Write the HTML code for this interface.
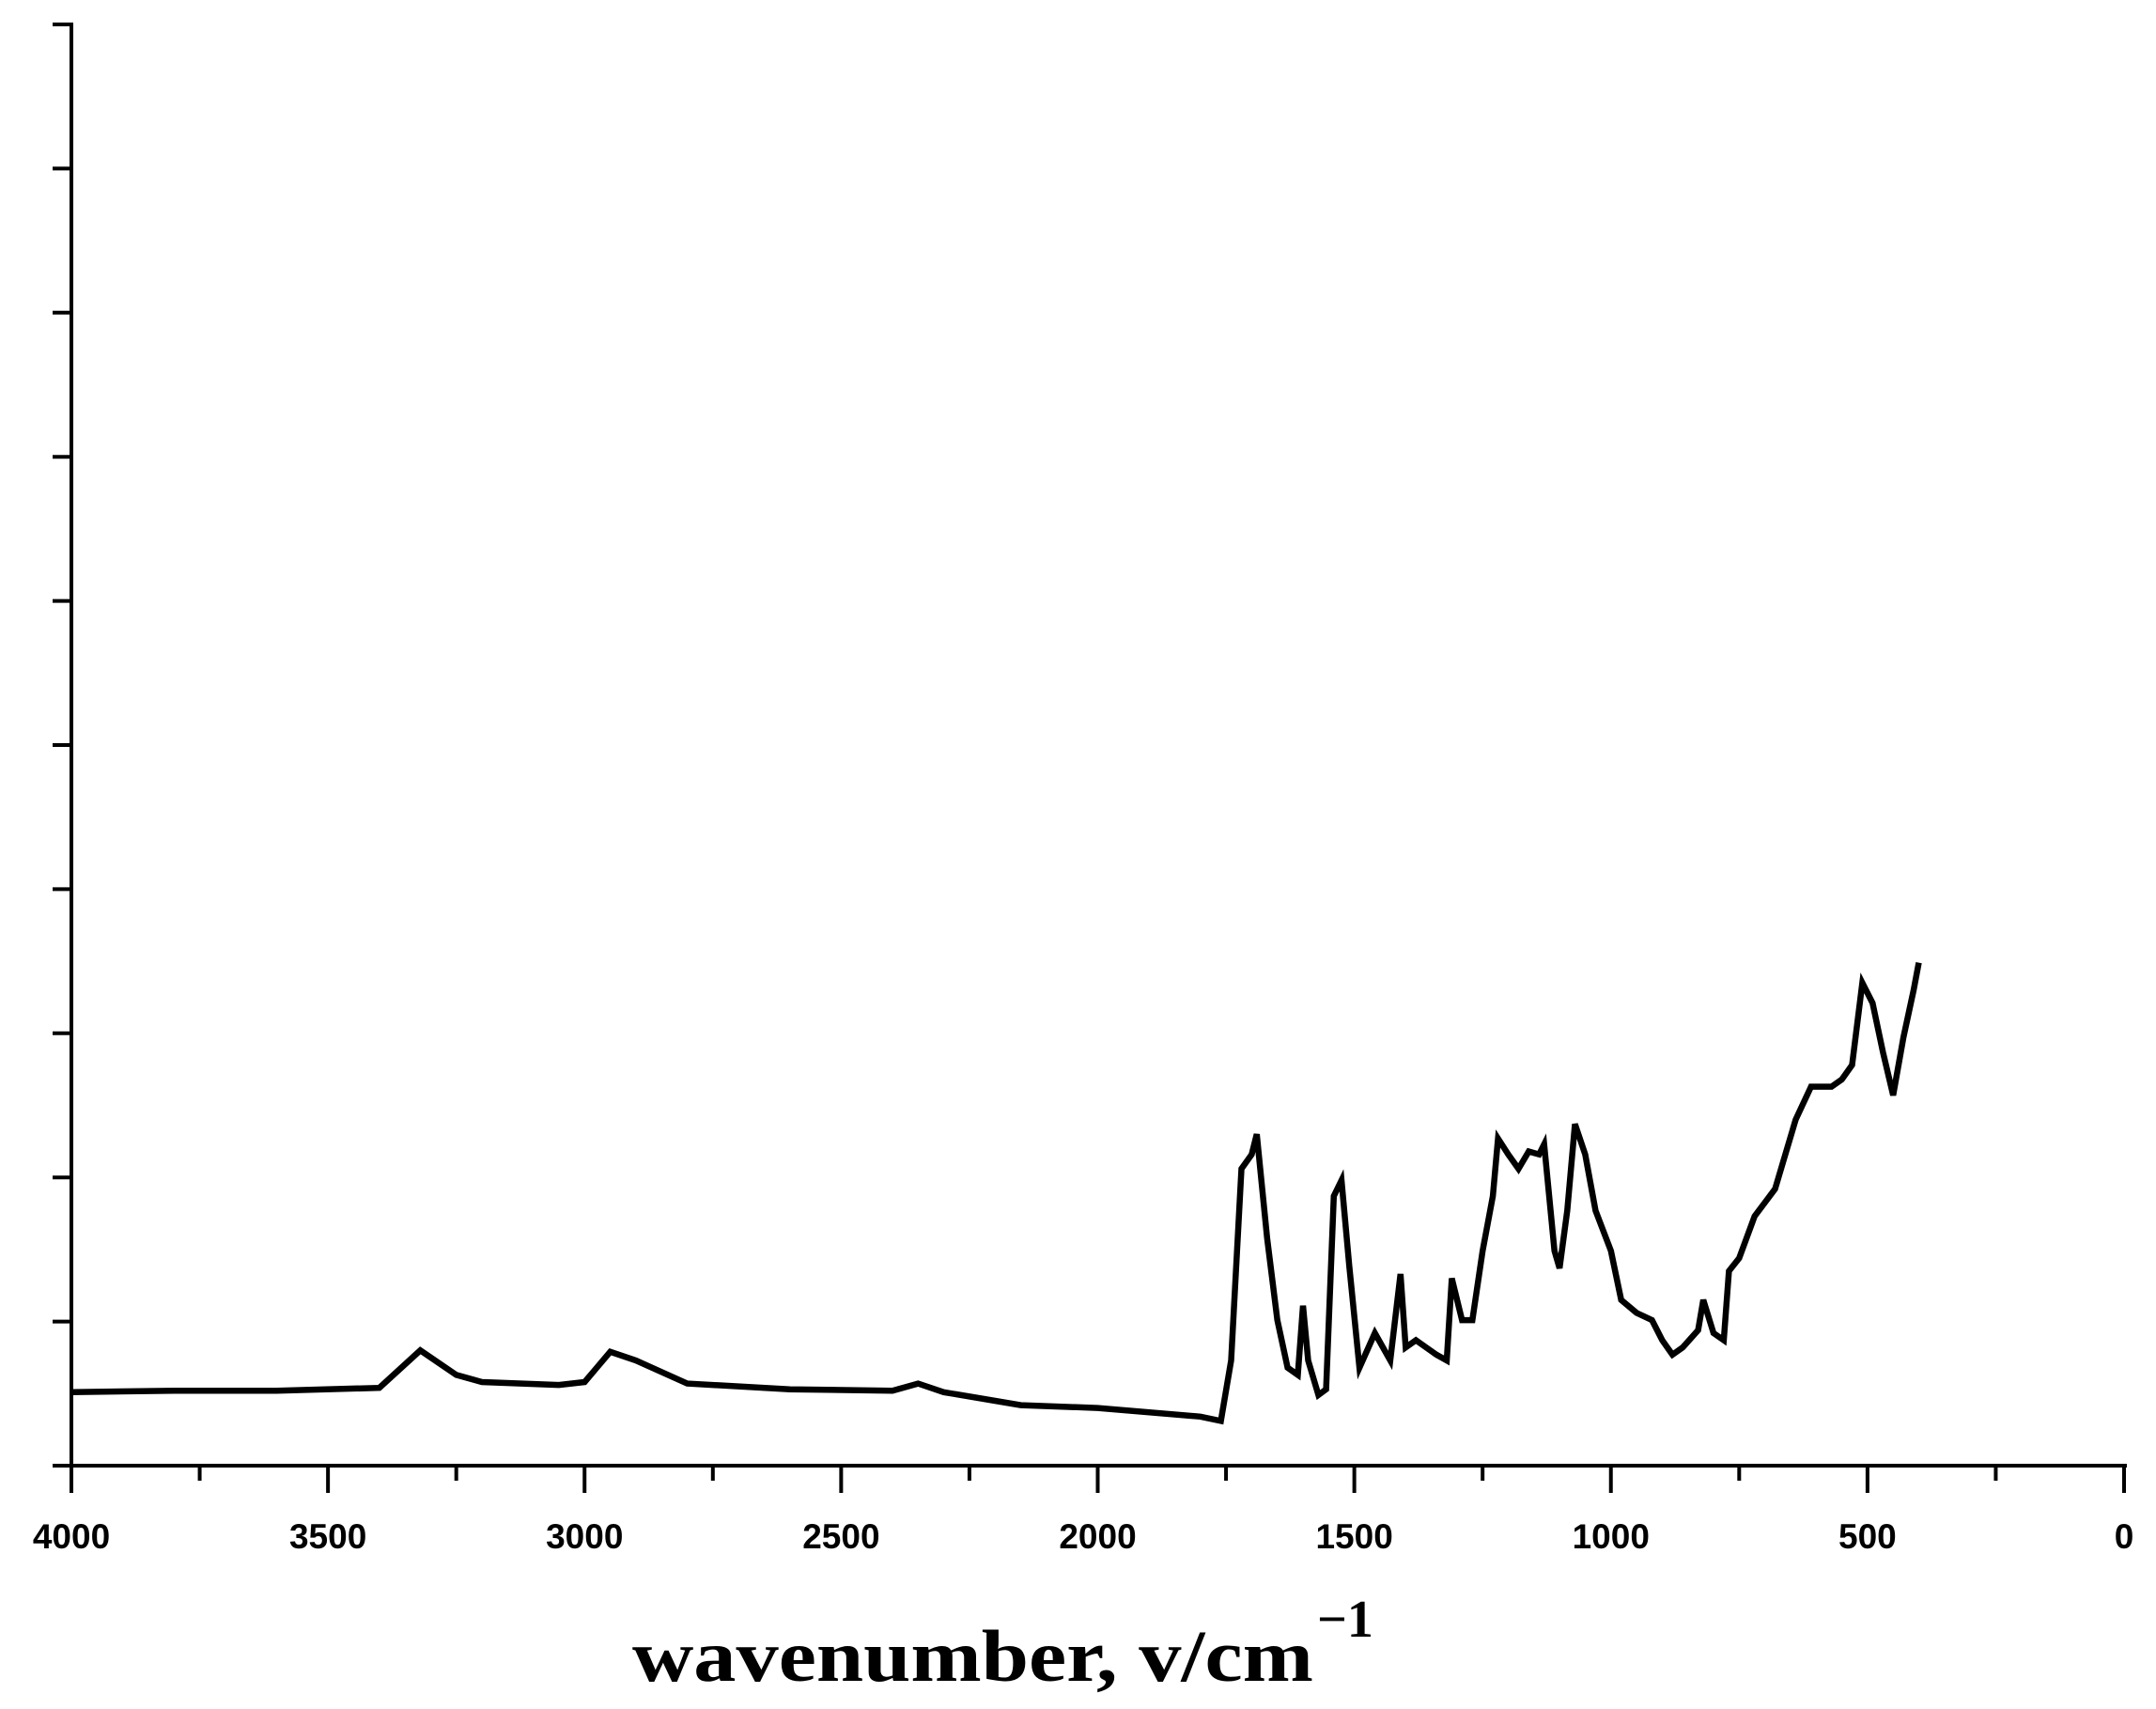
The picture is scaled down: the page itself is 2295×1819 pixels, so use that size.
<!DOCTYPE html>
<html><head><meta charset="utf-8"><style>
html,body{margin:0;padding:0;background:#fff;}
svg{display:block;}
</style></head><body>
<svg id="chart" width="2295" height="1819" viewBox="0 0 2295 1819" xmlns="http://www.w3.org/2000/svg">
<rect width="2295" height="1819" fill="#fff"/>
<g id="axes"></g>
<path id="spectrum" fill="none" stroke="#000" stroke-width="6.5" stroke-linejoin="miter"/>
<text x="673" y="1789" font-family="Liberation Serif, serif" font-weight="bold" font-size="78" textLength="725" lengthAdjust="spacingAndGlyphs">wavenumber, v/cm</text>
<text x="1402" y="1742" font-family="Liberation Serif, serif" font-weight="bold" font-size="56">−1</text>
</svg>
<script>
const wavenumbers=[4000,3800,3600,3400,3320,3250,3200,3050,3000,2950,2900,2850,2800,2600,2400,2350,2300,2200,2150,2000,1800,1760,1740,1720,1700,1690,1670,1650,1630,1610,1600,1590,1570,1555,1540,1525,1510,1490,1460,1430,1410,1400,1380,1340,1320,1310,1290,1270,1250,1230,1220,1200,1180,1160,1140,1130,1110,1100,1085,1070,1050,1030,1000,980,950,920,900,880,860,830,820,800,780,770,750,720,680,640,610,570,550,530,510,490,470,450,430,410,400];
const transmittance=[0.51,0.52,0.52,0.54,0.80,0.63,0.58,0.56,0.58,0.79,0.73,0.65,0.57,0.53,0.52,0.57,0.51,0.45,0.42,0.40,0.34,0.31,0.73,2.06,2.16,2.30,1.58,1.01,0.68,0.63,1.11,0.73,0.49,0.53,1.87,1.98,1.39,0.68,0.92,0.73,1.33,0.82,0.87,0.77,0.73,1.30,1.01,1.01,1.49,1.87,2.27,2.16,2.06,2.18,2.16,2.23,1.49,1.37,1.77,2.37,2.16,1.77,1.49,1.15,1.06,1.01,0.87,0.77,0.82,0.94,1.15,0.92,0.87,1.35,1.44,1.73,1.92,2.40,2.63,2.63,2.68,2.78,3.35,3.21,2.87,2.57,2.97,3.30,3.49];
const xTickLabels=["4000","3500","3000","2500","2000","1500","1000","500","0"];
const xTickValues=[4000,3500,3000,2500,2000,1500,1000,500,0];
const yTickValues=[0,1,2,3,4,5,6,7,8,9,10];

const X0=76,X1=2261,Y0=1560,YTOP=26;
function xs(w){return X0+(4000-w)*(X1-X0)/4000;}
function ys(v){return Y0-v*(Y0-YTOP)/10;}
const NS="http://www.w3.org/2000/svg";
const axes=document.getElementById('axes');
function line(x1,y1,x2,y2,w,name){
  const l=document.createElementNS(NS,'line');
  l.setAttribute('x1',x1);l.setAttribute('y1',y1);l.setAttribute('x2',x2);l.setAttribute('y2',y2);
  l.setAttribute('stroke','#000');l.setAttribute('stroke-width',w);
  
  
  axes.appendChild(l);
}
line(X0,YTOP-2,X0,Y0+2,4,'y-axis-line');
line(X0-16,Y0,X1+3,Y0,4,'x-axis-line');
yTickValues.forEach(v=>{line(X0-20,ys(v),X0,ys(v),4,'y-tick');});
xTickValues.forEach((v,i)=>{
  line(xs(v),Y0,xs(v),Y0+29,4,'x-tick-major');
  if(i<xTickValues.length-1) line(xs(v-250),Y0,xs(v-250),Y0+16,4,'x-tick-minor');
  const t=document.createElementNS(NS,'text');
  t.setAttribute('x',xs(v));t.setAttribute('y',Y0+88);
  t.setAttribute('text-anchor','middle');
  t.setAttribute('font-family','Liberation Sans, sans-serif');
  t.setAttribute('font-weight','bold');
  t.setAttribute('font-size','37');
  t.textContent=xTickLabels[i];
  
  
  axes.appendChild(t);
});
let d='';
wavenumbers.forEach((w,i)=>{d+=(i?'L':'M')+xs(w).toFixed(1)+','+ys(transmittance[i]).toFixed(1);});
document.getElementById('spectrum').setAttribute('d',d);
</script>
</body></html>
